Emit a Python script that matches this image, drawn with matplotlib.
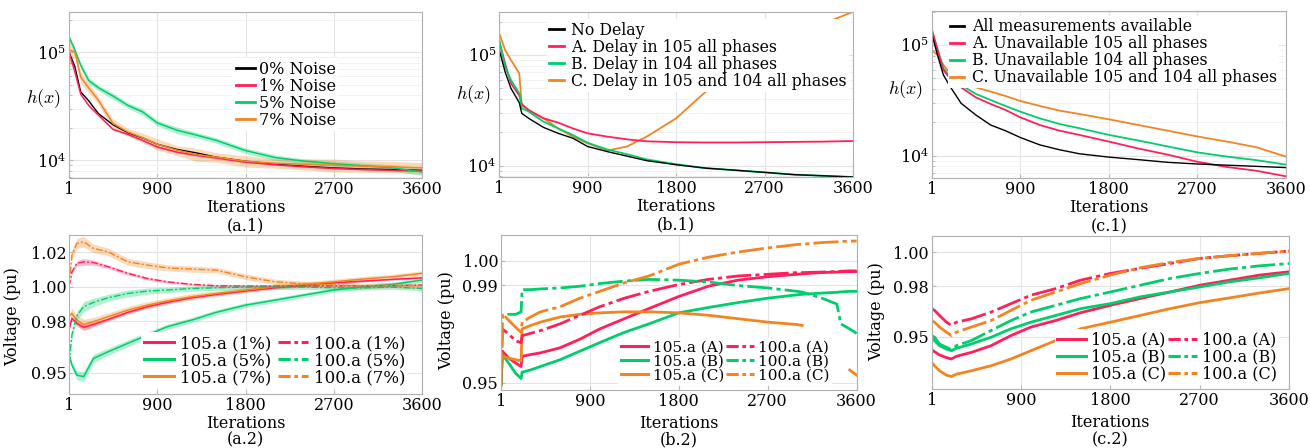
import matplotlib
matplotlib.use("Agg")
import matplotlib.pyplot as plt
from matplotlib.lines import Line2D
from matplotlib.ticker import NullFormatter
import numpy as np

plt.rcParams['font.family'] = ['DejaVu Serif']
plt.rcParams['mathtext.fontset'] = 'dejavuserif'

RED = '#FF1F5B'
GREEN = '#00CD6C'
ORANGE = '#F28522'
FS = 11.5

# ---------------- (a.1) h(x) with measurement noise ----------------
it_a1 = [1, 60, 120, 200, 300, 450, 600, 750, 900, 1100, 1300, 1500, 1800, 2100, 2400, 2700, 3000, 3300, 3600]
a1_noise0 = [1.0e5, 7.4e4, 4.3e4, 3.57e4, 2.71e4, 2.13e4, 1.80e4, 1.61e4, 1.41e4, 1.26e4, 1.17e4, 1.07e4, 9.8e3, 9.2e3, 8.8e3, 8.5e3, 8.3e3, 8.2e3, 8.07e3]
a1_noise1 = [1.0e5, 6.6e4, 4.1e4, 3.23e4, 2.62e4, 1.93e4, 1.74e4, 1.53e4, 1.33e4, 1.19e4, 1.11e4, 1.05e4, 9.6e3, 9.1e3, 8.7e3, 8.4e3, 8.2e3, 8.07e3, 7.96e3]
a1_noise5 = [1.40e5, 1.05e5, 7.6e4, 5.5e4, 4.7e4, 3.93e4, 3.23e4, 2.81e4, 2.22e4, 1.90e4, 1.71e4, 1.53e4, 1.23e4, 1.06e4, 9.8e3, 9.3e3, 8.9e3, 8.5e3, 7.8e3]
a1_noise7 = [1.05e5, 1.01e5, 5.9e4, 4.7e4, 3.6e4, 2.19e4, 1.83e4, 1.62e4, 1.41e4, 1.24e4, 1.13e4, 1.07e4, 9.8e3, 9.4e3, 9.2e3, 9.0e3, 8.8e3, 8.7e3, 8.5e3]
# relative half width of the shaded spread
a1_spread1 = [0.0, 0.02, 0.02, 0.02, 0.02, 0.02, 0.02, 0.02, 0.02, 0.02, 0.02, 0.02, 0.015, 0.015, 0.015, 0.015, 0.015, 0.015, 0.015]
a1_spread5 = [0.0, 0.04, 0.06, 0.07, 0.06, 0.07, 0.06, 0.07, 0.06, 0.07, 0.06, 0.06, 0.06, 0.06, 0.05, 0.06, 0.06, 0.07, 0.07]
a1_spread7 = [0.3, 0.1, 0.12, 0.1, 0.08, 0.1, 0.08, 0.1, 0.12, 0.1, 0.14, 0.1, 0.12, 0.1, 0.12, 0.14, 0.12, 0.12, 0.12]

# ---------------- (b.1) h(x) with delays ----------------
it_b1 = [1, 60, 120, 205, 230, 300, 450, 600, 750, 900, 1100, 1300, 1500, 1800, 2100, 2400, 2700, 3000, 3300, 3600]
b1_nodelay = [1.11e5, 7.07e4, 5.0e4, 3.7e4, 2.97e4, 2.68e4, 2.22e4, 1.96e4, 1.77e4, 1.49e4, 1.34e4, 1.22e4, 1.11e4, 1.02e4, 9.5e3, 9.1e3, 8.7e3, 8.3e3, 8.1e3, 7.9e3]
b1_delayA = [1.32e5, 8.4e4, 5.55e4, 4.3e4, 3.6e4, 3.18e4, 2.68e4, 2.45e4, 2.17e4, 1.96e4, 1.83e4, 1.73e4, 1.66e4, 1.63e4, 1.62e4, 1.62e4, 1.63e4, 1.64e4, 1.65e4, 1.67e4]
b1_delayB = [1.37e5, 7.85e4, 5.94e4, 4.5e4, 3.3e4, 3.08e4, 2.5e4, 2.17e4, 1.89e4, 1.61e4, 1.40e4, 1.27e4, 1.14e4, 1.03e4, 9.5e3, 9.1e3, 8.7e3, 8.3e3, 8.1e3, 7.9e3]
b1_delayC = [1.57e5, 1.11e5, 9.0e4, 6.8e4, 3.5e4, 3.18e4, 2.68e4, 2.17e4, 1.83e4, 1.59e4, 1.37e4, 1.49e4, 1.83e4, 2.68e4, 4.66e4, 6.6e4, 9.0e4, 1.27e5, 1.93e5, 2.46e5]

# ---------------- (c.1) h(x) with unavailable measurements ----------------
it_c1 = [1, 60, 120, 200, 300, 450, 600, 750, 900, 1100, 1300, 1500, 1800, 2100, 2400, 2700, 3000, 3300, 3600]
c1_all = [1.27e5, 8.12e4, 5.35e4, 4.06e4, 2.97e4, 2.33e4, 1.89e4, 1.68e4, 1.46e4, 1.25e4, 1.13e4, 1.04e4, 9.7e3, 9.2e3, 8.7e3, 8.4e3, 8.2e3, 8.0e3, 7.8e3]
c1_unavA = [1.41e5, 9.0e4, 5.94e4, 4.83e4, 4.14e4, 3.36e4, 2.93e4, 2.59e4, 2.22e4, 1.89e4, 1.68e4, 1.54e4, 1.34e4, 1.16e4, 1.02e4, 8.8e3, 7.9e3, 7.3e3, 6.5e3]
c1_unavB = [1.32e5, 9.3e4, 6.16e4, 5.0e4, 4.35e4, 3.61e4, 3.18e4, 2.81e4, 2.5e4, 2.17e4, 1.93e4, 1.77e4, 1.54e4, 1.37e4, 1.21e4, 1.07e4, 9.8e3, 9.1e3, 8.3e3]
c1_unavC = [9.0e4, 8.12e4, 6.6e4, 5.35e4, 4.66e4, 4.14e4, 3.79e4, 3.46e4, 3.12e4, 2.81e4, 2.55e4, 2.38e4, 2.13e4, 1.89e4, 1.68e4, 1.49e4, 1.34e4, 1.19e4, 9.8e3]

# ---------------- (a.2) voltages with noise ----------------
it_a2 = [1, 30, 80, 150, 250, 400, 600, 800, 1000, 1250, 1500, 1800, 2100, 2400, 2700, 3000, 3300, 3600]
a2_105_1 = [0.9748, 0.9816, 0.9787, 0.9764, 0.9781, 0.9810, 0.9851, 0.9884, 0.9909, 0.9936, 0.9955, 0.9975, 0.9994, 1.0010, 1.0023, 1.0033, 1.0043, 1.0052]
a2_105_5 = [0.9603, 0.9545, 0.9486, 0.9477, 0.9583, 0.9622, 0.9671, 0.9719, 0.9767, 0.9806, 0.9851, 0.9893, 0.9922, 0.9952, 0.9981, 1.0000, 1.0014, 1.0039]
a2_105_7 = [0.9831, 0.9845, 0.9806, 0.9781, 0.9797, 0.9826, 0.9864, 0.9893, 0.9917, 0.9942, 0.9961, 0.9981, 1.0000, 1.0014, 1.0029, 1.0045, 1.0058, 1.0078]
a2_100_1 = [1.0000, 1.0087, 1.0136, 1.0145, 1.0141, 1.0116, 1.0078, 1.0048, 1.0029, 1.0014, 1.0006, 1.0004, 1.0004, 1.0004, 1.0006, 1.0006, 1.0006, 1.0010]
a2_100_5 = [0.9550, 0.9720, 0.9830, 0.9884, 0.9909, 0.9936, 0.9961, 0.9975, 0.9981, 0.9990, 0.9994, 0.9998, 0.9998, 0.9998, 0.9994, 0.9994, 0.9998, 0.9990]
a2_100_7 = [1.0000, 1.0184, 1.0252, 1.0262, 1.0223, 1.0203, 1.0145, 1.0126, 1.0110, 1.0103, 1.0097, 1.0058, 1.0029, 1.0017, 1.0010, 1.0006, 1.0010, 1.0004]
a2_spread1 = [0.0, 0.001, 0.0015, 0.002, 0.0015, 0.001, 0.001, 0.0008, 0.0008, 0.0006, 0.0006, 0.0006, 0.0005, 0.0005, 0.0005, 0.0005, 0.0005, 0.0005]
a2_spread5 = [0.0, 0.002, 0.0025, 0.003, 0.0025, 0.002, 0.002, 0.0018, 0.0016, 0.0015, 0.0015, 0.0014, 0.0014, 0.0013, 0.0013, 0.0013, 0.0013, 0.0013]
a2_spread7 = [0.0, 0.003, 0.003, 0.003, 0.0025, 0.0022, 0.002, 0.002, 0.0018, 0.0018, 0.0016, 0.0016, 0.0016, 0.0015, 0.0015, 0.0015, 0.0015, 0.0015]

# ---------------- (b.2) voltages with delays ----------------
it_b2 = [1, 15, 80, 150, 205, 215, 300, 400, 600, 800, 1000, 1250, 1500, 1800, 2100, 2400, 2700, 3000, 3050, 3250, 3400, 3440, 3530, 3600]
b2_105_A = [0.9490, 0.9629, 0.9601, 0.9580, 0.9566, 0.9608, 0.9615, 0.9622, 0.9643, 0.9678, 0.9720, 0.9762, 0.9804, 0.9853, 0.9895, 0.9920, 0.9934, 0.9944, 0.9946, 0.9951, 0.9953, 0.9954, 0.9955, 0.9955]
b2_105_B = [0.9490, 0.9615, 0.9580, 0.9538, 0.9517, 0.9543, 0.9552, 0.9566, 0.9594, 0.9629, 0.9664, 0.9706, 0.9741, 0.9786, 0.9808, 0.9828, 0.9846, 0.9860, 0.9862, 0.9867, 0.9870, 0.9872, 0.9874, 0.9874]
b2_105_C = [0.9490, 0.9608, 0.9601, 0.9594, 0.9590, 0.9720, 0.9734, 0.9748, 0.9769, 0.9780, 0.9786, 0.9790, 0.9790, 0.9786, 0.9776, 0.9762, 0.9748, 0.9738, 0.9734, np.nan, np.nan, np.nan, 0.9552, 0.9531]
b2_100_A = [0.9490, 0.9720, 0.9699, 0.9671, 0.9664, 0.9692, 0.9702, 0.9713, 0.9741, 0.9776, 0.9811, 0.9846, 0.9874, 0.9902, 0.9923, 0.9937, 0.9944, 0.9951, 0.9951, 0.9953, 0.9955, 0.9956, 0.9958, 0.9958]
b2_100_B = [0.9490, 0.9776, 0.9780, 0.9780, 0.9790, 0.9881, 0.9881, 0.9884, 0.9888, 0.9895, 0.9906, 0.9916, 0.9923, 0.9920, 0.9912, 0.9898, 0.9888, 0.9874, 0.9871, 0.9846, 0.9822, 0.9741, 0.9720, 0.9702]
b2_100_C = [0.9490, 0.9783, 0.9755, 0.9727, 0.9706, 0.9748, 0.9769, 0.9790, 0.9811, 0.9846, 0.9874, 0.9909, 0.9937, 0.9985, 1.0014, 1.0035, 1.0052, 1.0066, 1.0067, 1.0074, 1.0077, 1.0078, 1.0080, 1.0080]

# ---------------- (c.2) voltages with unavailable measurements ----------------
it_c2 = [1, 30, 80, 150, 200, 250, 400, 600, 800, 1000, 1250, 1500, 1800, 2100, 2400, 2700, 3000, 3300, 3600]
c2_105_A = [0.9423, 0.9411, 0.9392, 0.9376, 0.9368, 0.9384, 0.9407, 0.9447, 0.9507, 0.9557, 0.9596, 0.9642, 0.9686, 0.9726, 0.9765, 0.9805, 0.9835, 0.9865, 0.9885]
c2_105_B = [0.9487, 0.9477, 0.9447, 0.9427, 0.9417, 0.9431, 0.9457, 0.9497, 0.9547, 0.9586, 0.9626, 0.9666, 0.9696, 0.9736, 0.9765, 0.9795, 0.9825, 0.9849, 0.9875]
c2_105_C = [0.9348, 0.9328, 0.9298, 0.9272, 0.9264, 0.9278, 0.9298, 0.9328, 0.9368, 0.9417, 0.9477, 0.9547, 0.9586, 0.9626, 0.9666, 0.9702, 0.9730, 0.9759, 0.9785]
c2_100_A = [0.9666, 0.9656, 0.9626, 0.9586, 0.9567, 0.9586, 0.9606, 0.9646, 0.9696, 0.9746, 0.9785, 0.9835, 0.9875, 0.9905, 0.9934, 0.9964, 0.9980, 0.9994, 1.0008]
c2_100_B = [0.9507, 0.9497, 0.9457, 0.9437, 0.9423, 0.9447, 0.9477, 0.9537, 0.9596, 0.9646, 0.9686, 0.9726, 0.9765, 0.9805, 0.9845, 0.9875, 0.9901, 0.9920, 0.9934]
c2_100_C = [0.9596, 0.9586, 0.9557, 0.9527, 0.9507, 0.9527, 0.9557, 0.9596, 0.9656, 0.9716, 0.9765, 0.9815, 0.9865, 0.9909, 0.9940, 0.9964, 0.9980, 0.9994, 1.0008]

xticks = [1, 900, 1800, 2700, 3600]
H_PX = 448.0


def style(ax, log=False):
    ax.set_xlim(1, 3600)
    ax.set_xticks(xticks)
    ax.grid(True, which='major', color='#e4e4e4', lw=0.8)
    if log:
        ax.set_yscale('log')
        ax.grid(True, which='minor', color='#f0f0f0', lw=0.6)
        ax.yaxis.set_minor_formatter(NullFormatter())
    for s in ax.spines.values():
        s.set_color('#b0b0b0')
        s.set_linewidth(0.8)
    ax.tick_params(which='both', direction='in', length=3, color='#b8b8b8',
                   labelsize=FS, pad=2)
    ax.tick_params(which='minor', length=2)
    ax.set_axisbelow(True)


def labels(ax, ylab, ylab_xy, xlab_px, cap, cap_px, math=False):
    # xlab_px / cap_px: vertical centre in figure pixels from the top
    if math:
        ax.text(ylab_xy[0], ylab_xy[1], ylab, transform=ax.transAxes, ha='center',
                va='center', fontsize=FS + 1.5, math_fontfamily='cm')
    else:
        ax.text(ylab_xy[0], ylab_xy[1], ylab, transform=ax.transAxes, ha='center',
                va='center', rotation=90, fontsize=FS)
    bb = ax.get_position()
    xc = bb.x0 + bb.width * 0.5
    fig.text(xc, 1 - xlab_px / H_PX, 'Iterations', ha='center', va='center', fontsize=FS)
    fig.text(xc, 1 - cap_px / H_PX, cap, ha='center', va='center', fontsize=FS)


fig = plt.figure(figsize=(13.1, 4.48), dpi=100)
ax_a1 = fig.add_axes([0.0527, 0.6027, 0.2695, 0.3712])
ax_b1 = fig.add_axes([0.3811, 0.6042, 0.2702, 0.3696])
ax_c1 = fig.add_axes([0.7112, 0.6020, 0.2705, 0.3741])
ax_a2 = fig.add_axes([0.0527, 0.1205, 0.2695, 0.3549])
ax_b2 = fig.add_axes([0.3824, 0.1295, 0.2715, 0.3460])
ax_c2 = fig.add_axes([0.7112, 0.1317, 0.2728, 0.3415])

LEG = dict(frameon=True, facecolor='white', edgecolor='none', framealpha=1,
           fancybox=False, borderpad=0.15, borderaxespad=0, labelspacing=0.0)

# (a.1)
style(ax_a1, log=True)
for vals, spr, col in [(a1_noise5, a1_spread5, GREEN),
                       (a1_noise7, a1_spread7, ORANGE),
                       (a1_noise1, a1_spread1, RED)]:
    v = np.array(vals)
    s = np.array(spr)
    ax_a1.fill_between(it_a1, v * (1 - s), v * (1 + s), color=col, alpha=0.3, lw=0)
ax_a1.plot(it_a1, a1_noise0, color='black', lw=1.0)
ax_a1.plot(it_a1, a1_noise1, color=RED, lw=1.1)
ax_a1.plot(it_a1, a1_noise5, color=GREEN, lw=1.1)
ax_a1.plot(it_a1, a1_noise7, color=ORANGE, lw=1.1)
ax_a1.set_ylim(6.85e3, 2.38e5)
h = [Line2D([], [], color=c, lw=2) for c in ['black', RED, GREEN, ORANGE]]
ax_a1.legend(h, ['0% Noise', '1% Noise', '5% Noise', '7% Noise'], loc='upper left',
             bbox_to_anchor=(0.465, 0.72), fontsize=11.5, handlelength=1.2,
             handletextpad=0.25, **LEG)
labels(ax_a1, '$h(x)$', (-0.071, 0.48), 207, '(a.1)', 225.5, math=True)

# (b.1)
style(ax_b1, log=True)
ax_b1.plot(it_b1, b1_delayC, color=ORANGE, lw=1.3)
ax_b1.plot(it_b1, b1_delayA, color=RED, lw=1.3)
ax_b1.plot(it_b1, b1_delayB, color=GREEN, lw=1.3)
ax_b1.plot(it_b1, b1_nodelay, color='black', lw=1.0)
ax_b1.set_ylim(7.85e3, 2.46e5)
ax_b1.legend(h, ['No Delay', 'A. Delay in 105 all phases', 'B. Delay in 104 all phases',
                 'C. Delay in 105 and 104 all phases'], loc='upper left',
             bbox_to_anchor=(0.135, 0.955), fontsize=11.3, handlelength=0.9,
             handletextpad=0.5, **LEG)
labels(ax_b1, '$h(x)$', (-0.074, 0.497), 206.5, '(b.1)', 225, math=True)

# (c.1)
style(ax_c1, log=True)
ax_c1.plot(it_c1, c1_unavC, color=ORANGE, lw=1.3)
ax_c1.plot(it_c1, c1_unavB, color=GREEN, lw=1.3)
ax_c1.plot(it_c1, c1_unavA, color=RED, lw=1.3)
ax_c1.plot(it_c1, c1_all, color='black', lw=1.0)
ax_c1.set_ylim(6.24e3, 2.04e5)
ax_c1.legend(h, ['All measurements available', 'A. Unavailable 105 all phases',
                 'B. Unavailable 104 all phases', 'C. Unavailable 105 and 104 all phases'],
             loc='upper left', bbox_to_anchor=(0.045, 0.97), fontsize=11.3, handlelength=0.9,
             handletextpad=0.5, **LEG)
labels(ax_c1, '$h(x)$', (-0.075, 0.527), 207, '(c.1)', 225.5, math=True)

DASH = (0, (9, 1.5, 1.5, 1.5))
DASH_A2 = (0, (5, 1.5, 1.5, 1.5))

# (a.2)
style(ax_a2)
for vals, spr, col in [(a2_105_1, a2_spread1, RED), (a2_105_5, a2_spread5, GREEN),
                       (a2_105_7, a2_spread7, ORANGE), (a2_100_1, a2_spread1, RED),
                       (a2_100_5, a2_spread5, GREEN), (a2_100_7, a2_spread7, ORANGE)]:
    v = np.array(vals)
    s = np.array(spr)
    ax_a2.fill_between(it_a2, v - s, v + s, color=col, alpha=0.3, lw=0)
ax_a2.plot(it_a2, a2_105_1, color=RED, lw=1.1)
ax_a2.plot(it_a2, a2_105_5, color=GREEN, lw=1.1)
ax_a2.plot(it_a2, a2_105_7, color=ORANGE, lw=1.1)
ax_a2.plot(it_a2, a2_100_1, color=RED, lw=1.0, ls=DASH_A2)
ax_a2.plot(it_a2, a2_100_5, color=GREEN, lw=1.0, ls=DASH_A2)
ax_a2.plot(it_a2, a2_100_7, color=ORANGE, lw=1.0, ls=DASH_A2)
ax_a2.set_ylim(0.9376, 1.0301)
ax_a2.set_yticks([0.95, 0.98, 1.00, 1.02])
ax_a2.set_yticklabels(['0.95', '0.98', '1.00', '1.02'])
hv = [Line2D([], [], color=c, lw=2.2) for c in [RED, GREEN, ORANGE]] + \
     [Line2D([], [], color=c, lw=2.2, ls=(0, (4, 1.2, 1.2, 1.2))) for c in [RED, GREEN, ORANGE]]
ax_a2.legend(hv, ['105.a (1%)', '105.a (5%)', '105.a (7%)', '100.a (1%)', '100.a (5%)', '100.a (7%)'],
             ncol=2, loc='lower left', bbox_to_anchor=(0.205, 0.035), fontsize=12,
             handlelength=1.8, handletextpad=0.35, columnspacing=0.4, **LEG)
labels(ax_a2, 'Voltage (pu)', (-0.159, 0.484), 423, '(a.2)', 440)

# (b.2)
style(ax_b2)
ax_b2.plot(it_b2, b2_105_A, color=RED, lw=2.0)
ax_b2.plot(it_b2, b2_105_B, color=GREEN, lw=2.0)
ax_b2.plot(it_b2, b2_105_C, color=ORANGE, lw=2.0)
ax_b2.plot(it_b2, b2_100_A, color=RED, lw=2.0, ls=DASH)
ax_b2.plot(it_b2, b2_100_B, color=GREEN, lw=2.0, ls=DASH)
ax_b2.plot(it_b2, b2_100_C, color=ORANGE, lw=2.0, ls=DASH)
ax_b2.set_ylim(0.947, 1.0105)
ax_b2.set_yticks([0.95, 0.99, 1.00])
ax_b2.set_yticklabels(['0.95', '0.99', '1.00'])
ax_b2.legend(hv, ['105.a (A)', '105.a (B)', '105.a (C)', '100.a (A)', '100.a (B)', '100.a (C)'],
             ncol=2, loc='lower left', bbox_to_anchor=(0.33, 0.035), fontsize=11,
             handlelength=1.8, handletextpad=0.3, columnspacing=0.15, **LEG)
labels(ax_b2, 'Voltage (pu)', (-0.152, 0.45), 423, '(b.2)', 440)

# (c.2)
style(ax_c2)
ax_c2.plot(it_c2, c2_105_A, color=RED, lw=2.0)
ax_c2.plot(it_c2, c2_105_B, color=GREEN, lw=2.0)
ax_c2.plot(it_c2, c2_105_C, color=ORANGE, lw=2.0)
ax_c2.plot(it_c2, c2_100_A, color=RED, lw=2.0, ls=DASH)
ax_c2.plot(it_c2, c2_100_B, color=GREEN, lw=2.0, ls=DASH)
ax_c2.plot(it_c2, c2_100_C, color=ORANGE, lw=2.0, ls=DASH)
ax_c2.set_ylim(0.919, 1.0097)
ax_c2.set_yticks([0.95, 0.98, 1.00])
ax_c2.set_yticklabels(['0.95', '0.98', '1.00'])
ax_c2.legend(hv, ['105.a (A)', '105.a (B)', '105.a (C)', '100.a (A)', '100.a (B)', '100.a (C)'],
             ncol=2, loc='lower left', bbox_to_anchor=(0.345, 0.025), fontsize=11.5,
             handlelength=1.8, handletextpad=0.3, columnspacing=0.15, **LEG)
labels(ax_c2, 'Voltage (pu)', (-0.153, 0.503), 422, '(c.2)', 440)

fig.savefig('out.png', dpi=100)
